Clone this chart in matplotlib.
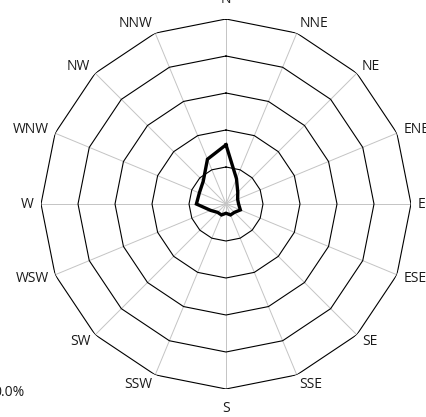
import numpy as np
import matplotlib
matplotlib.use("Agg")
import matplotlib.pyplot as plt

plt.rcParams['font.family'] = ['Open Sans', 'DejaVu Sans']

directions = ["N", "NNE", "NE", "ENE", "E", "ESE", "SE", "SSE",
              "S", "SSW", "SW", "WSW", "W", "WNW", "NW", "NNW"]
frequency = [1.60, 0.74, 0.45, 0.34, 0.34, 0.42, 0.32, 0.32,
             0.25, 0.32, 0.32, 0.45, 0.80, 0.78, 0.87, 1.31]
rings = [1, 2, 3, 4, 5]
zero_label = "0.0%"

W, H, DPI = 426, 417, 100
fig = plt.figure(figsize=(W / DPI, H / DPI), dpi=DPI)
cx, cy, R = 226, 204, 185
ax = fig.add_axes([(cx - R) / W, (H - cy - R) / H, 2 * R / W, 2 * R / H],
                  projection='polar')
ax.set_theta_zero_location('N')
ax.set_theta_direction(-1)
ax.set_ylim(0, rings[-1])
ax.grid(False)
ax.set_xticks([])
ax.set_yticks([])
ax.spines['polar'].set_visible(False)
ax.patch.set_visible(False)

n = len(directions)
theta = np.arange(n) * 2 * np.pi / n
theta_c = np.append(theta, theta[0])

# spokes
for t in theta:
    ax.plot([t, t], [0, rings[-1]], color='#c4c4c4', lw=0.7, zorder=1)
# rings (polygons)
for r in rings:
    ax.plot(theta_c, [r] * (n + 1), color='black', lw=0.8, zorder=2)

# data
vals = np.append(frequency, frequency[0])
ax.plot(theta_c, vals, color='black', lw=2.4, zorder=3, solid_joinstyle='miter')

# labels
for t, lab in zip(theta, directions):
    s, c = np.sin(t), np.cos(t)
    if abs(s) < 0.1:
        dx, dy = 0, 12 * c
        ha = 'center'
        va = 'bottom' if c > 0 else 'top'
    else:
        dx, dy = 7 * s, 10 * c
        ha = 'left' if s > 0 else 'right'
        va = 'center'
    ax.annotate(lab, xy=(t, rings[-1]), xytext=(dx, dy),
                textcoords='offset pixels', ha=ha, va=va,
                fontsize=10, color='#1a1a1a', annotation_clip=False)

fig.text(24 / W, 1 - 393 / H, zero_label, ha='right', va='center',
         fontsize=10, color='#1a1a1a')

fig.savefig('out.png', dpi=DPI)
